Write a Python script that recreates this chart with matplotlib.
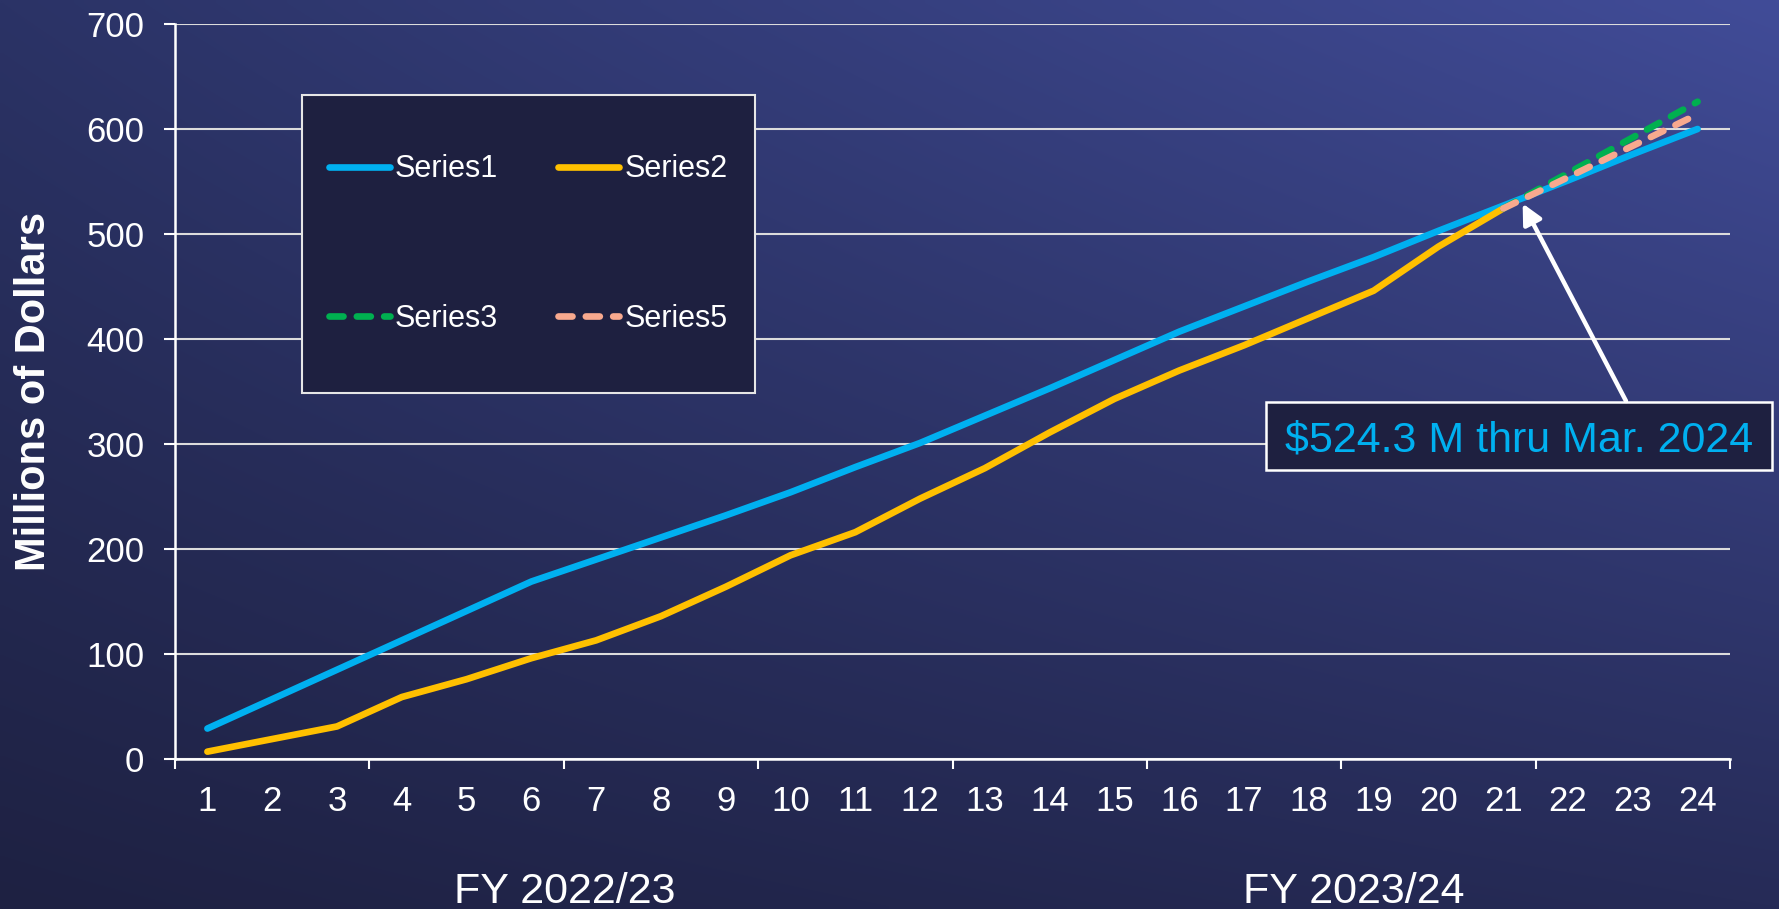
import numpy as np
import matplotlib
matplotlib.use("Agg")
import matplotlib.pyplot as plt
from matplotlib.patches import Rectangle
from matplotlib.ticker import FixedLocator, NullFormatter, FixedFormatter

plt.rcParams['font.family'] = ['Liberation Sans', 'DejaVu Sans']

# monthly cumulative totals, millions of dollars (month 1 = July 2022)
months = list(range(1, 25))
series1 = [29, 57, 85, 113, 141, 169, 190, 211, 232, 254, 278, 301,
           327, 353, 380, 407, 431, 455, 478, 503, 527, 551, 576, 600]
months_actual = list(range(1, 22))
series2 = [7, 19, 31, 59, 76, 96, 113, 136, 164, 194, 216, 248,
           277, 311, 343, 370, 394, 420, 446, 488, 524.3]
months_proj = [21, 22, 23, 24]
series3 = [524.3, 558, 592, 626]
series5 = [524.3, 554, 584, 614]

yticks = [0, 100, 200, 300, 400, 500, 600, 700]
fy_labels = ["FY 2022/23", "FY 2023/24"]
callout = "$524.3 M thru Mar. 2024"

W, H = 1779, 909
fig = plt.figure(figsize=(W / 100, H / 100), dpi=100)

# background gradient, lighter toward the top right
bg = fig.add_axes([0, 0, 1, 1], zorder=-10)
tl = np.array([0x2b, 0x33, 0x66]) / 255
tr = np.array([0x41, 0x4c, 0x98]) / 255
bl = np.array([0x1e, 0x21, 0x42]) / 255
br = np.array([0x26, 0x2b, 0x57]) / 255
u = np.linspace(0, 1, 300)[None, :, None]
v = np.linspace(0, 1, 160)[:, None, None]
grad = (1 - v) * ((1 - u) * tl + u * tr) + v * ((1 - u) * bl + u * br)
bg.imshow(grad, aspect='auto', extent=[0, 1, 0, 1], interpolation='bilinear')
bg.axis('off')

def fx(px):
    return px / W

def fy(py):
    return 1 - py / H

ax = fig.add_axes([fx(175), fy(759), fx(1730) - fx(175), fy(24) - fy(759)])
ax.set_facecolor('none')

lw = 4.8
l1, = ax.plot(months, series1, color='#00b0f0', lw=lw, solid_capstyle='round',
              solid_joinstyle='round', label='Series1', zorder=4)
l2, = ax.plot(months_actual, series2, color='#ffc000', lw=lw, solid_capstyle='round',
              solid_joinstyle='round', label='Series2', zorder=4)
l3, = ax.plot(months_proj, series3, color='#00b050', lw=lw, dashes=(2.1, 2.0),
              dash_capstyle='round', label='Series3', zorder=5)
l5, = ax.plot(months_proj, series5, color='#f8a98e', lw=lw, dashes=(2.1, 2.0),
              dash_capstyle='round', label='Series5', zorder=6)

ax.set_xlim(0.5, 24.5)
ax.set_ylim(0, 700)
ax.set_yticks(yticks)
ax.set_yticklabels([str(t) for t in yticks])
ax.yaxis.grid(True, color='#dcdcdc', lw=1.5)
ax.set_axisbelow(True)

# tick marks sit between quarter groups, month numbers centred under each month
ax.xaxis.set_major_locator(FixedLocator(np.arange(0.5, 25, 3)))
ax.xaxis.set_major_formatter(NullFormatter())
ax.xaxis.set_minor_locator(FixedLocator(months))
ax.xaxis.set_minor_formatter(FixedFormatter([str(m) for m in months]))
ax.tick_params(axis='x', which='major', length=7.5, width=1.5, color='white', direction='out')
ax.tick_params(axis='x', which='minor', length=0, pad=19, labelsize=25, labelcolor='white')
ax.tick_params(axis='y', length=8, width=1.5, color='white', pad=14, labelsize=25,
               labelcolor='white')

for side in ['top', 'right']:
    ax.spines[side].set_visible(False)
for side in ['left', 'bottom']:
    ax.spines[side].set_color('white')
    ax.spines[side].set_linewidth(1.8)

fig.text(fx(34), fy(391), "Millions of Dollars", rotation=90, ha='center', va='center',
         fontsize=30, fontweight='bold', color='white')

# legend panel
box = Rectangle((fx(302), fy(393)), fx(755) - fx(302), fy(95) - fy(393),
                transform=fig.transFigure, facecolor='#1e2040', edgecolor='#e6e6e6',
                lw=1.5, zorder=3)
ax.add_patch(box)
leg = ax.legend([l1, l3, l2, l5], ['Series1', 'Series3', 'Series2', 'Series5'],
                ncol=2, loc='center', bbox_to_anchor=(fx(528), fy(244)),
                bbox_transform=fig.transFigure, frameon=False, fontsize=22,
                handlelength=2.0, handletextpad=0.17, columnspacing=1.95,
                labelspacing=3.9)
for t in leg.get_texts():
    t.set_color('white')
leg.set_zorder(7)

# callout box and arrow
cbox = Rectangle((fx(1266), fy(470)), fx(1772) - fx(1266), fy(402) - fy(470),
                 transform=fig.transFigure, facecolor='#1e2040', edgecolor='white',
                 lw=1.8, zorder=8, clip_on=False)
ax.add_patch(cbox)
fig.text(fx(1519), fy(452), callout, ha='center', va='baseline', fontsize=31,
         color='#00b0f0', zorder=9)
ax.annotate('', xy=(21.3, 529), xycoords='data',
            xytext=(fx(1626), fy(401)), textcoords='figure fraction',
            arrowprops=dict(arrowstyle='-|>,head_length=0.6,head_width=0.3',
                            mutation_scale=20, color='white', lw=3.2,
                            shrinkA=0, shrinkB=0),
            zorder=9, annotation_clip=False)

fig.text(fx(565), fy(903), fy_labels[0], ha='center', va='baseline', fontsize=31,
         color='white')
fig.text(fx(1354), fy(903), fy_labels[1], ha='center', va='baseline', fontsize=31,
         color='white')

fig.savefig("out.png", dpi=100)
